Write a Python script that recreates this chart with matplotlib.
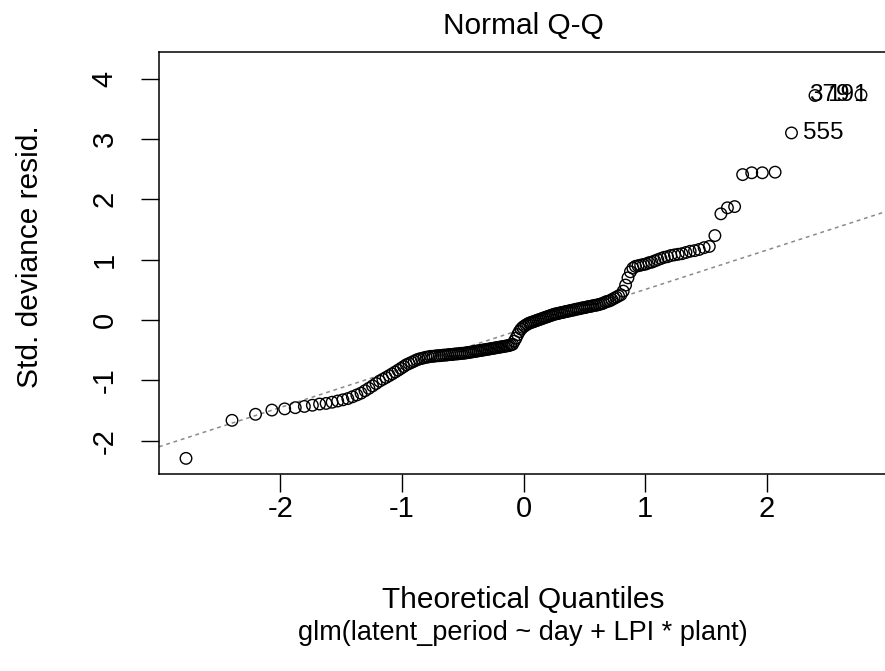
import numpy as np
import matplotlib
matplotlib.use("Agg")
import matplotlib.pyplot as plt
from statistics import NormalDist

plt.rcParams["font.family"] = ["Liberation Sans", "DejaVu Sans"]
plt.rcParams["axes.unicode_minus"] = False

# sorted std. deviance residuals
resid = [
    -2.29, -1.66, -1.56, -1.49, -1.47,
    -1.45, -1.43, -1.41, -1.39, -1.38, -1.36, -1.34, -1.32, -1.30, -1.27,
    -1.24, -1.21, -1.17, -1.13, -1.09, -1.05, -1.01, -0.98, -0.95, -0.92,
    -0.89, -0.86, -0.83, -0.80, -0.77, -0.74, -0.72, -0.70, -0.68, -0.66,
    -0.645, -0.635, -0.625, -0.615, -0.61, -0.60, -0.60, -0.595, -0.59, -0.59,
    -0.585, -0.58, -0.58, -0.575, -0.57, -0.57, -0.565, -0.56, -0.56, -0.555,
    -0.55, -0.55, -0.545, -0.54, -0.535,
    -0.53, -0.525, -0.52, -0.515, -0.51, -0.505, -0.50, -0.495, -0.49, -0.485,
    -0.48, -0.475, -0.47, -0.465, -0.46,
    -0.455, -0.45, -0.445, -0.44, -0.435, -0.43, -0.425, -0.42, -0.41, -0.40,
    -0.35, -0.30, -0.24, -0.19, -0.15, -0.12, -0.10, -0.08,
    -0.065, -0.05, -0.04, -0.03, -0.02, -0.01, 0.0, 0.01, 0.02, 0.03,
    0.04, 0.05, 0.06, 0.07, 0.08, 0.09, 0.10,
    0.105, 0.11, 0.12, 0.125, 0.13, 0.14, 0.145, 0.15, 0.16, 0.165,
    0.17, 0.18, 0.185, 0.19, 0.20,
    0.205, 0.21, 0.22, 0.225, 0.23, 0.24, 0.245, 0.25, 0.26, 0.27, 0.28, 0.30,
    0.31, 0.32, 0.34, 0.36, 0.38, 0.40,
    0.42, 0.48, 0.58, 0.70, 0.80, 0.86, 0.89,
    0.90, 0.91, 0.92, 0.93, 0.95, 0.96, 0.98, 1.00, 1.02, 1.04,
    1.05, 1.07, 1.08, 1.09, 1.10, 1.12, 1.14,
    1.15, 1.17, 1.20, 1.22, 1.40, 1.76, 1.86, 1.88, 2.41, 2.44,
    2.44, 2.45, 3.10, 3.72, 3.73,
]
# row names of the 3 largest |resid|, largest first
id_labels = ["379", "191", "555"]

xticks = [-2, -1, 0, 1, 2]
xtick_labels = ["-2", "-1", "0", "1", "2"]
yticks = [-2, -1, 0, 1, 2, 3, 4]
ytick_labels = ["-2", "-1", "0", "1", "2", "3", "4"]

title = "Normal Q-Q"
xlab = "Theoretical Quantiles"
ylab = "Std. deviance resid."
sub = "glm(latent_period ~ day + LPI * plant)"

y = np.array(resid)
n = len(y)
nd = NormalDist()
theo = np.array([nd.inv_cdf((i - 0.5) / n) for i in range(1, n + 1)])

W, H = 885, 671
fig = plt.figure(figsize=(W / 100, H / 100), dpi=100)
# plot box runs a little past the right edge (cropped like the original)
ax = fig.add_axes([159 / W, 1 - 474 / H, 729 / W, 422 / H])

ax.scatter(theo, y, s=8.3 ** 2, facecolors="none", edgecolors="black",
           linewidths=1.0, zorder=3)

# qqline through the quartiles
q1, q3 = np.percentile(y, [25, 75])
z = nd.inv_cdf(0.75)
ax.axline((-z, q1), (z, q3), color="#8a8a8a", lw=1.1,
          linestyle=(0, (2.5, 2.5)), zorder=2)

# R style limits
xr = theo.max() - theo.min()
ax.set_xlim(theo.min() - 0.04 * xr, theo.max() + 0.04 * xr)
ylo, yhi = y.min(), y.max()
yhi = yhi + 0.075 * (yhi - ylo)
yr = yhi - ylo
ax.set_ylim(ylo - 0.04 * yr, yhi + 0.04 * yr)

show = np.argsort(-np.abs(y))[:3]
mid = (theo[show].min() + theo[show].max()) / 2
for k, idx in enumerate(show):
    if theo[idx] > mid:
        ax.annotate(id_labels[k], (theo[idx], y[idx]), xytext=(-8.5, 0),
                    textcoords="offset points", ha="right", va="center",
                    fontsize=17.5, annotation_clip=False)
    else:
        ax.annotate(id_labels[k], (theo[idx], y[idx]), xytext=(8.5, 0),
                    textcoords="offset points", ha="left", va="center",
                    fontsize=17.5, annotation_clip=False)

ax.set_xticks(xticks)
ax.set_xticklabels(xtick_labels)
ax.set_yticks(yticks)
ax.set_yticklabels(ytick_labels, rotation=90, va="center")
ax.tick_params(direction="out", length=13, width=1.0, labelsize=21)
ax.tick_params(axis="x", pad=2)
ax.tick_params(axis="y", pad=16)
for s in ax.spines.values():
    s.set_linewidth(1.1)

fig.text(523 / W, 1 - 26 / H, title, ha="center", va="center", fontsize=21.5)
fig.text(523 / W, 1 - 600 / H, xlab, ha="center", va="center", fontsize=21.5)
fig.text(523 / W, 1 - 633 / H, sub, ha="center", va="center", fontsize=19.5)
fig.text(30 / W, 1 - 257 / H, ylab, ha="center", va="center", fontsize=21.5,
         rotation=90)

fig.savefig("out.png", dpi=100)
